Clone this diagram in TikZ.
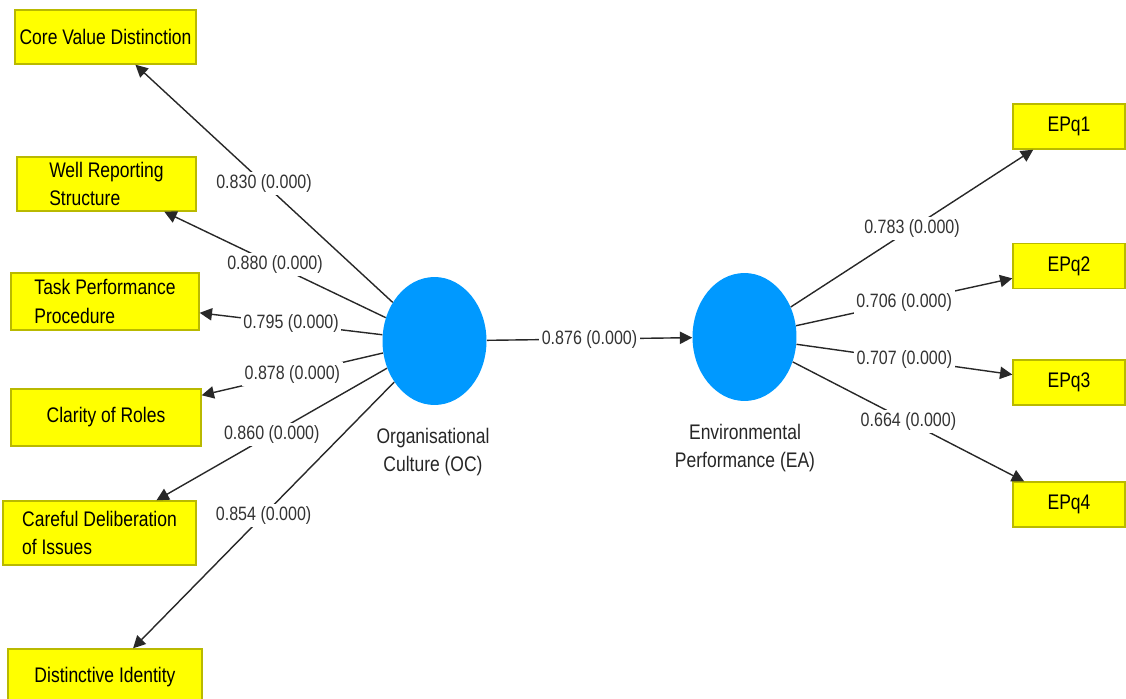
\documentclass[tikz,border=0pt]{standalone}
\usepackage{fontspec}
\setmainfont{Liberation Sans}[FakeStretch=0.83]
\usetikzlibrary{arrows.meta,shapes.geometric}
\definecolor{lvblue}{RGB}{0,153,255}
\definecolor{indyellow}{RGB}{255,255,0}
\definecolor{indborder}{RGB}{185,185,0}
\definecolor{pathgray}{RGB}{40,40,40}

\begin{document}
\begin{tikzpicture}[x=0.02cm,y=-0.02cm,
	latent/.style={ellipse, fill=lvblue, minimum width=2.08cm, minimum height=2.56cm, inner sep=0pt},
	indicator/.style={draw=indborder, fill=indyellow, line width=0.8pt, align=left, text=black, inner sep=0pt, font=\fontsize{12}{16}\selectfont},
	caption/.style={align=center, text=black!85, font=\fontsize{12}{16}\selectfont},
	loading/.style={draw=pathgray, line width=0.8pt, -{Triangle[length=7pt,width=7pt]}},
	coef/.style={fill=white, inner sep=1.5pt, text=black!80, font=\fontsize{11}{13}\selectfont}]
	\useasboundingbox (0,0) rectangle (1126,699);

	\node[latent] (oc) at (434.5,341) {};
	\node[latent] (ea) at (744.5,337) {};
	\node[caption] (oclabel) at (433,452) {Organisational\\Culture (OC)};
	\node[caption] (ealabel) at (745,448) {Environmental\\Performance (EA)};

	\node[indicator, minimum width=3.62cm, minimum height=1.08cm] (cvd) at (105.5,37) {Core Value Distinction};
	\node[indicator, minimum width=3.58cm, minimum height=1.08cm] (wrs) at (106.5,184) {Well Reporting\\Structure};
	\node[indicator, minimum width=3.76cm, minimum height=1.14cm] (tpp) at (105,301.5) {Task Performance\\Procedure};
	\node[indicator, minimum width=3.80cm, minimum height=1.14cm] (cor) at (106,417.5) {Clarity of Roles};
	\node[indicator, minimum width=3.86cm, minimum height=1.28cm] (cdi) at (99.5,533) {Careful Deliberation\\of Issues};
	\node[indicator, minimum width=3.88cm, minimum height=1.12cm] (did) at (105,677) {Distinctive Identity};

	\node[indicator, minimum width=2.24cm, minimum height=0.90cm] (ep1) at (1069,126.5) {EPq1};
	\node[indicator, minimum width=2.24cm, minimum height=0.90cm] (ep2) at (1069,266) {EPq2};
	\node[indicator, minimum width=2.24cm, minimum height=0.90cm] (ep3) at (1069,382.5) {EPq3};
	\node[indicator, minimum width=2.24cm, minimum height=0.90cm] (ep4) at (1069,504.5) {EPq4};

	\draw[loading] (oc) -- node[coef] {0.830 (0.000)} (cvd);
	\draw[loading] (oc) -- node[coef] {0.880 (0.000)} (wrs);
	\draw[loading] (oc) -- node[coef] {0.795 (0.000)} (tpp);
	\draw[loading] (oc) -- node[coef] {0.878 (0.000)} (cor);
	\draw[loading] (oc) -- node[coef] {0.860 (0.000)} (cdi);
	\draw[loading] (oc) -- node[coef] {0.854 (0.000)} (did);

	\draw[loading] (oc) -- node[coef] {0.876 (0.000)} (ea);

	\draw[loading] (ea) -- node[coef] {0.783 (0.000)} (ep1);
	\draw[loading] (ea) -- node[coef] {0.706 (0.000)} (ep2);
	\draw[loading] (ea) -- node[coef] {0.707 (0.000)} (ep3);
	\draw[loading] (ea) -- node[coef] {0.664 (0.000)} (ep4);
\end{tikzpicture}
\end{document}
